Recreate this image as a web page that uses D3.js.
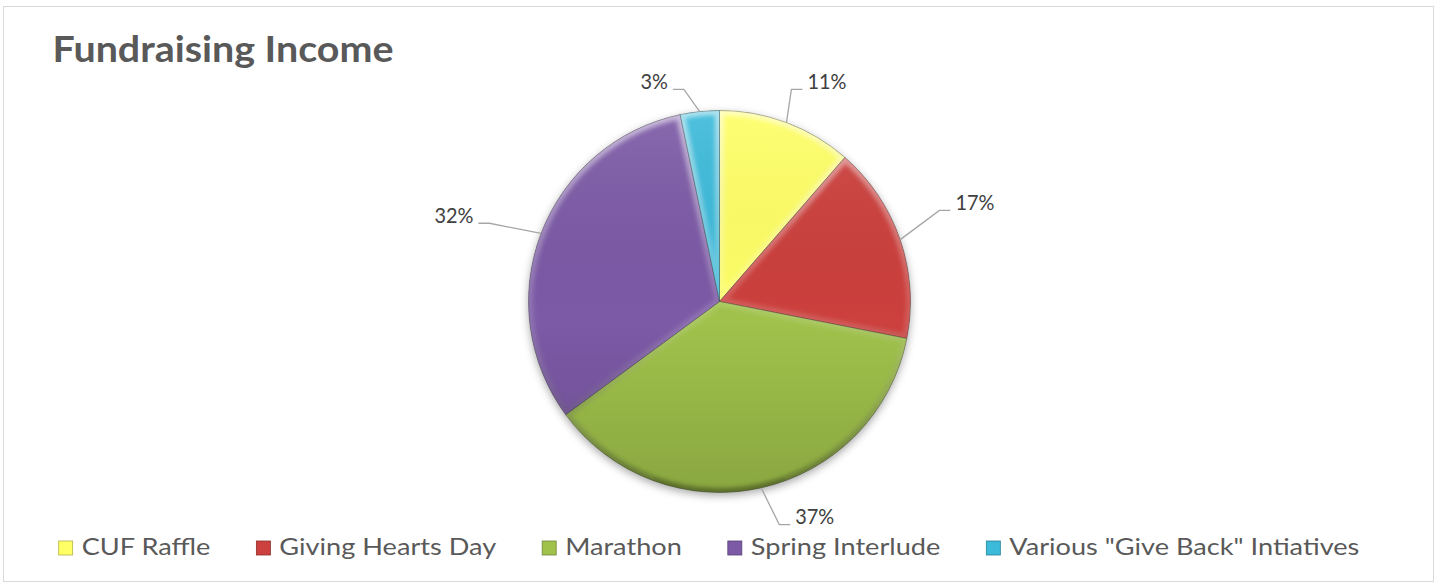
<!DOCTYPE html>
<html>
<head>
<meta charset="utf-8">
<script src="https://cdn.jsdelivr.net/npm/d3@7"></script>
<style>
  body { margin: 0; background: #fff; }
  svg { display: block; font-family: Lato, "Open Sans", sans-serif; }
</style>
</head>
<body>
<svg width="1440" height="586"></svg>
<script>
const categories = ['CUF Raffle', 'Giving Hearts Day', 'Marathon', 'Spring Interlude', 'Various "Give Back" Intiatives'];
const shares = [11.4, 16.7, 36.8, 31.8, 3.3];
const colors = ['#ffff66', '#cc403d', '#a0c24b', '#7c5aa6', '#3bbada'];

// label placement (Excel "best fit" look)
const labelRadius = [224, 238, 231, 243, 215];
const labelNudge = [-1.8, -3.6, -2.4, -2.1, -3.6];

let width = 1440;
let height = 586;
let cx = 719.5;
let cy = 301.5;
let radius = 191;

let svg = d3.select('svg').attr('width', width).attr('height', height);
let defs = svg.append('defs');

svg.append('rect')
  .attr('x', 3.5).attr('y', 6.5)
  .attr('width', 1430).attr('height', 575)
  .attr('fill', '#fff')
  .attr('stroke', '#d9d9d9')
  .attr('stroke-width', 1);

// the original font is narrower than Lato: squeeze glyphs horizontally
function squeeze(sel, factor) {
  sel.each(function () {
    let w = this.getComputedTextLength();
    d3.select(this).attr('textLength', w * factor).attr('lengthAdjust', 'spacingAndGlyphs');
  });
}

function naturalWidth(text, size, weight) {
  let t = svg.append('text').attr('font-size', size).attr('font-weight', weight).text(text);
  let w = t.node().getComputedTextLength();
  t.remove();
  return w;
}

// title
let title = svg.append('text')
  .attr('x', 52.5)
  .attr('y', 61.5)
  .attr('font-size', 37)
  .attr('font-weight', 700)
  .attr('fill', '#595959')
  .text('Fundraising Income');
squeeze(title, 341 / naturalWidth('Fundraising Income', 37, 700));

// effects
let shadow = defs.append('filter').attr('id', 'shadow')
  .attr('x', '-20%').attr('y', '-20%').attr('width', '140%').attr('height', '140%');
shadow.append('feDropShadow')
  .attr('dx', 0).attr('dy', 3).attr('stdDeviation', 4)
  .attr('flood-color', '#000').attr('flood-opacity', 0.35);

let blur = defs.append('filter').attr('id', 'soft');
blur.append('feGaussianBlur').attr('stdDeviation', 2);

let shade = defs.append('linearGradient').attr('id', 'shade')
  .attr('x1', 0).attr('y1', 0).attr('x2', 0).attr('y2', 1);
shade.append('stop').attr('offset', '0%').attr('stop-color', '#fff').attr('stop-opacity', 0.1);
shade.append('stop').attr('offset', '55%').attr('stop-color', '#000').attr('stop-opacity', 0);
shade.append('stop').attr('offset', '100%').attr('stop-color', '#000').attr('stop-opacity', 0.14);

let bevel = defs.append('linearGradient').attr('id', 'bevel')
  .attr('gradientUnits', 'userSpaceOnUse')
  .attr('x1', 0).attr('y1', -radius).attr('x2', 0).attr('y2', radius);
bevel.append('stop').attr('offset', '0%').attr('stop-color', '#fff').attr('stop-opacity', 0.55);
bevel.append('stop').attr('offset', '50%').attr('stop-color', '#fff').attr('stop-opacity', 0.15);
bevel.append('stop').attr('offset', '100%').attr('stop-color', '#000').attr('stop-opacity', 0.35);

let pie = d3.pie().sort(null).value((d) => d);
let arcs = pie(shares);
let arc = d3.arc().innerRadius(0).outerRadius(radius);

let pieGp = svg.append('g').attr('transform', `translate(${cx},${cy})`);

pieGp.append('circle').attr('r', radius).attr('fill', '#888').attr('filter', 'url(#shadow)');

arcs.forEach((d, i) => {
  defs.append('clipPath').attr('id', 'clip' + i)
    .append('path').attr('d', arc(d));
});

let slices = pieGp.selectAll('g.slice')
  .data(arcs)
  .enter()
  .append('g')
  .classed('slice', true);

slices.append('path')
  .attr('d', arc)
  .attr('fill', (d, i) => colors[i]);

slices.append('g')
  .attr('clip-path', (d, i) => `url(#clip${i})`)
  .append('path')
  .attr('d', arc)
  .attr('fill', 'none')
  .attr('stroke', 'url(#bevel)')
  .attr('stroke-width', 9)
  .attr('filter', 'url(#soft)');

pieGp.append('circle').attr('r', radius).attr('fill', 'url(#shade)');

slices.append('path')
  .attr('d', arc)
  .attr('fill', 'none')
  .attr('stroke', 'rgba(60,60,60,0.45)')
  .attr('stroke-width', 0.8);

// data labels with leader lines
let labelGp = svg.append('g');
let labelTexts = [];
arcs.forEach((d, i) => {
  let mid = (d.startAngle + d.endAngle) / 2;
  let la = mid + labelNudge[i] * Math.PI / 180;
  let x0 = cx + radius * Math.sin(mid);
  let y0 = cy - radius * Math.cos(mid);
  let x1 = cx + labelRadius[i] * Math.sin(la);
  let y1 = cy - labelRadius[i] * Math.cos(la);
  let dir = Math.sin(la) >= 0 ? 1 : -1;
  let x2 = x1 + dir * 11;
  labelGp.append('polyline')
    .attr('points', [[x0, y0], [x1, y1], [x2, y1]].map((p) => p.join(',')).join(' '))
    .attr('fill', 'none')
    .attr('stroke', '#a6a6a6')
    .attr('stroke-width', 1.3);
  labelTexts.push(labelGp.append('text')
    .attr('x', x2 + dir * 5)
    .attr('y', y1 - 6)
    .attr('dominant-baseline', 'middle')
    .attr('text-anchor', dir > 0 ? 'start' : 'end')
    .attr('font-size', 21)
    .attr('fill', '#404040')
    .text(Math.round(d.data) + '%').node());
});
squeeze(d3.selectAll(labelTexts), 39 / naturalWidth('37%', 21, 400));

// legend
let legendGp = svg.append('g');
let items = legendGp.selectAll('g')
  .data(categories)
  .enter()
  .append('g');

items.append('rect')
  .attr('width', 14).attr('height', 14)
  .attr('y', 541)
  .attr('fill', (d, i) => colors[i])
  .attr('stroke', (d, i) => d3.color(colors[i]).darker(1))
  .attr('stroke-width', 0.8);

let legendTexts = items.append('text')
  .attr('x', 23)
  .attr('y', 555)
  .attr('font-size', 23.5)
  .attr('fill', '#595959')
  .text((d) => d);
squeeze(legendTexts, 350 / naturalWidth(categories[4], 23.5, 400));

let widths = [];
legendTexts.each(function () {
  widths.push(23 + +d3.select(this).attr('textLength'));
});
let gap = 46;
let total = d3.sum(widths) + gap * (widths.length - 1);
let x = 709 - total / 2;
items.each(function (d, i) {
  d3.select(this).attr('transform', `translate(${x},0)`);
  x += widths[i] + gap;
});
</script>
</body>
</html>
